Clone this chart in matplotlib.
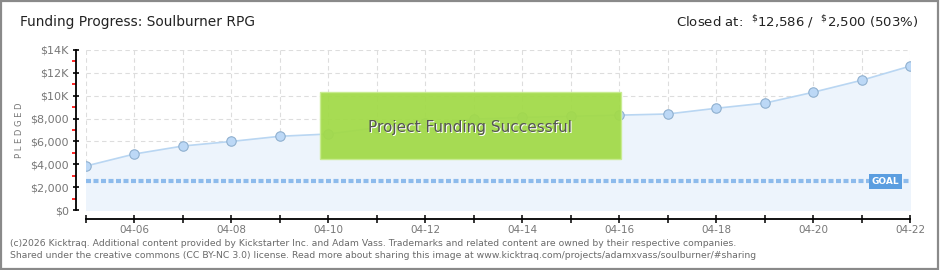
import matplotlib
matplotlib.use('Agg')
import matplotlib.pyplot as plt
from matplotlib.patches import Rectangle
from matplotlib.ticker import MultipleLocator, FixedLocator

days = [5, 6, 7, 8, 9, 10, 11, 12, 13, 14, 15, 16, 17, 18, 19, 20, 21, 22]
pledged = [3850, 4900, 5600, 6000, 6450, 6650, 7200, 7600, 7950, 8100, 8200, 8300,
           8400, 8900, 9350, 10300, 11350, 12586]
goal = 2500
y_ticks = [0, 2000, 4000, 6000, 8000, 10000, 12000, 14000]
y_labels = ['$0', '$2,000', '$4,000', '$6,000', '$8,000', '$10K', '$12K', '$14K']
x_ticks = [6, 8, 10, 12, 14, 16, 18, 20, 22]
x_labels = ['04-06', '04-08', '04-10', '04-12', '04-14', '04-16', '04-18', '04-20', '04-22']

plt.rcParams['font.family'] = ['DejaVu Sans']

fig = plt.figure(figsize=(9.4, 2.7), dpi=100)
fig.patch.set_facecolor('white')

# frame around the whole image
fig.patches.append(Rectangle((0.001, 0.002), 0.997, 0.994, transform=fig.transFigure,
                             fill=False, edgecolor='#8a8a8a', linewidth=1.6))

ax = fig.add_axes([86 / 940, 1 - 210 / 270, 824 / 940, 160 / 270])
ax.set_xlim(5, 22)
ax.set_ylim(0, 14000)

ax.fill_between(days, pledged, 0, color='#edf4fc', zorder=1)
ax.plot(days, pledged, color='#b9d6f2', linewidth=1.2, zorder=3)
ax.plot(days, pledged, 'o', markersize=6.8, markerfacecolor='#bcd8f6',
        markeredgecolor='#8fb0cf', markeredgewidth=0.8, zorder=4)

ax.axhline(goal, color='#8dbbec', linewidth=3, linestyle=(0, (1.2, 0.6)), zorder=2)
ax.text(21.5, goal, 'GOAL', color='white', fontsize=6.5, fontweight='bold',
        ha='center', va='center', zorder=6,
        bbox=dict(boxstyle='square,pad=0.3', facecolor='#5b9ee0', edgecolor='none'))

# grid
ax.set_axisbelow(True)
ax.xaxis.set_minor_locator(MultipleLocator(1))
ax.grid(True, which='major', axis='y', color='#dddddd', linestyle=(0, (4, 3)), linewidth=0.8)
ax.grid(True, which='both', axis='x', color='#dddddd', linestyle=(0, (4, 3)), linewidth=0.8)

ax.set_yticks(y_ticks)
ax.set_yticklabels(y_labels)
ax.yaxis.set_minor_locator(FixedLocator([1000, 3000, 5000, 7000, 9000, 11000, 13000]))
ax.set_xticks(x_ticks)
ax.set_xticklabels(x_labels)

for s in ['top', 'right']:
    ax.spines[s].set_visible(False)
ax.spines['left'].set_position(('outward', 7))
ax.spines['bottom'].set_position(('outward', 6.5))
ax.spines['left'].set_linewidth(1.3)
ax.spines['bottom'].set_linewidth(1.3)
ax.tick_params(axis='y', which='major', direction='inout', length=5, width=1.2,
               labelsize=8, labelcolor='#777777', pad=3)
ax.tick_params(axis='y', which='minor', direction='out', length=3, width=1.2, color='red')
ax.tick_params(axis='x', which='both', direction='inout', length=6, width=1.1,
               labelsize=7.5, labelcolor='#777777', pad=1)

ax.set_ylabel('P L E D G E D', fontsize=6, color='#777777', labelpad=4)

# success banner
ax.add_patch(Rectangle((9.83, 4500), 6.2, 5800, facecolor='#a2da48', edgecolor='#c8ec90',
                       linewidth=1, alpha=0.94, zorder=7))
ax.text(12.95, 7150, 'Project Funding Successful', fontsize=11, color='white',
        ha='center', va='center', zorder=8)
ax.text(12.93, 7250, 'Project Funding Successful', fontsize=11, color='#555555',
        ha='center', va='center', zorder=9)

fig.text(20 / 940, 1 - 22 / 270, 'Funding Progress: Soulburner RPG', fontsize=9.9,
         color='#222222', va='center', ha='left')
fig.text(918 / 940, 1 - 22 / 270, r'Closed at:  $^{\$}$12,586 /  $^{\$}$2,500 (503%)',
         fontsize=9.5, color='#222222', va='center', ha='right')

fig.text(10 / 940, 1 - 243 / 270,
         '(c)2026 Kicktraq. Additional content provided by Kickstarter Inc. and Adam Vass. '
         'Trademarks and related content are owned by their respective companies.',
         fontsize=6.65, color='#6a6a6a', va='center', ha='left')
fig.text(10 / 940, 1 - 256 / 270,
         'Shared under the creative commons (CC BY-NC 3.0) license. Read more about sharing '
         'this image at www.kicktraq.com/projects/adamxvass/soulburner/#sharing',
         fontsize=6.65, color='#6a6a6a', va='center', ha='left')

fig.savefig('out.png', dpi=100)
